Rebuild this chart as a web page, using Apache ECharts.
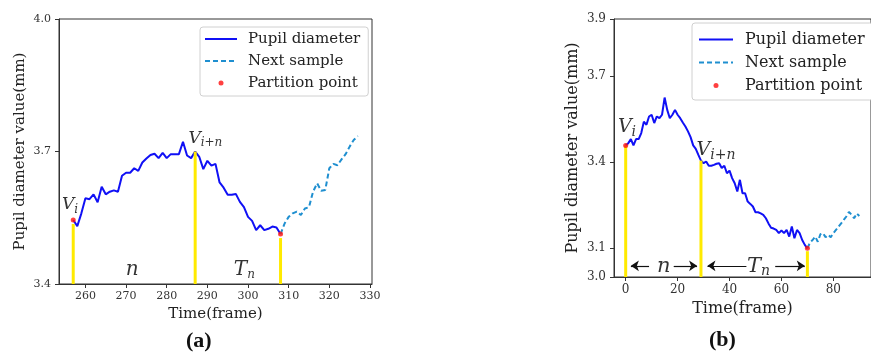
<!DOCTYPE html>
<html>
<head>
<meta charset="utf-8">
<script src="https://cdn.jsdelivr.net/npm/echarts@6/dist/echarts.min.js"></script>
<style>
  html, body { margin: 0; padding: 0; background: #fff; }
  #chart { width: 871px; height: 354px; }
</style>
</head>
<body>
<div id="chart"></div>
<script>
// (a) panel, frames 257..308 solid, 308..327 dashed
const startA = 257;
const pupilA = [3.545, 3.531, 3.560, 3.594, 3.592, 3.603, 3.585, 3.620, 3.603, 3.609,
  3.612, 3.609, 3.645, 3.652, 3.652, 3.662, 3.656, 3.675, 3.684, 3.692,
  3.695, 3.685, 3.697, 3.685, 3.694, 3.694, 3.694, 3.722, 3.691, 3.685,
  3.700, 3.688, 3.660, 3.679, 3.668, 3.672, 3.630, 3.618, 3.602, 3.602,
  3.604, 3.586, 3.574, 3.552, 3.543, 3.522, 3.533, 3.522, 3.525, 3.530,
  3.528, 3.513];
const nextStartA = 308;
const nextA = [3.513, 3.537, 3.552, 3.560, 3.564, 3.556, 3.571, 3.574, 3.609, 3.628,
  3.611, 3.613, 3.662, 3.672, 3.669, 3.682, 3.694, 3.711, 3.726, 3.735];
const barsA = [[257, 3.536], [287, 3.700], [308, 3.504]];
const pointsA = [[257, 3.545], [308, 3.513]];
const xTicksA = [260, 270, 280, 290, 300, 310, 320, 330];
const yTicksA = [3.4, 3.7, 4.0];
const annotA = [
  [256.2, 3.579, '{v|V}{s|i}'],
  [289.5, 3.730, '{v|V}{s|i+n}'],
  [271.5, 3.432, '{b|n}'],
  [299.1, 3.432, '{b|T}{s|n}']
];

// (b) panel, frames 0..70 solid, 70..90 dashed
const startB = 0;
const pupilB = [3.459, 3.467, 3.481, 3.459, 3.481, 3.481, 3.502, 3.542, 3.531, 3.560,
  3.566, 3.537, 3.560, 3.554, 3.566, 3.626, 3.583, 3.554, 3.566, 3.583,
  3.566, 3.554, 3.539, 3.525, 3.508, 3.488, 3.459, 3.447, 3.426, 3.406,
  3.397, 3.403, 3.388, 3.388, 3.391, 3.395, 3.397, 3.380, 3.388, 3.362,
  3.371, 3.345, 3.327, 3.298, 3.339, 3.292, 3.292, 3.263, 3.255, 3.246,
  3.226, 3.226, 3.222, 3.217, 3.205, 3.187, 3.172, 3.169, 3.164, 3.153,
  3.162, 3.153, 3.164, 3.141, 3.176, 3.135, 3.164, 3.153, 3.129, 3.112,
  3.100];
const nextStartB = 70;
const nextB = [3.100, 3.120, 3.129, 3.141, 3.123, 3.149, 3.153, 3.139, 3.147, 3.139,
  3.153, 3.164, 3.176, 3.187, 3.199, 3.211, 3.227, 3.217, 3.205, 3.222, 3.213];
const barsB = [[0, 3.459], [29, 3.406], [70, 3.090]];
const pointsB = [[0, 3.459], [70, 3.100]];
const xTicksB = [0, 20, 40, 60, 80];
const yTicksB = [3.0, 3.1, 3.4, 3.7, 3.9];
const annotB = [
  [0.5, 3.524, '{v|V}{s|i}'],
  [34.8, 3.444, '{v|V}{s|i+n}'],
  [14.7, 3.038, '{b|n}'],
  [51.2, 3.038, '{b|T}{s|n}']
];
const arrowY = 3.039;
const arrowsB = [[9, 2], [18.5, 27.5], [46.5, 31.5], [57.6, 69]];

const SERIF = 'DejaVu Serif';
const MATH = 'DejaVu Serif';
const pairs = (start, arr) => arr.map((v, i) => [start + i, v]);

function xAxisOf(idx, min, max, ticks, fs, nameGap) {
  return {
    type: 'value', gridIndex: idx, min, max,
    name: 'Time(frame)', nameLocation: 'middle', nameGap,
    nameTextStyle: { fontFamily: SERIF, fontSize: fs + 4, color: '#222' },
    axisLine: { show: true, onZero: false, lineStyle: { color: '#333', width: 1 } },
    axisTick: { show: true, length: 4, lineStyle: { color: '#333' }, customValues: ticks },
    axisLabel: { fontFamily: SERIF, fontSize: fs, color: '#333', margin: 7, customValues: ticks },
    splitLine: { show: false }
  };
}
function yAxisOf(idx, min, max, ticks, fs, nameGap) {
  return {
    type: 'value', gridIndex: idx, min, max,
    name: 'Pupil diameter value(mm)', nameLocation: 'middle', nameGap,
    nameTextStyle: { fontFamily: SERIF, fontSize: fs + 4, color: '#222' },
    axisLine: { show: true, onZero: false, lineStyle: { color: '#333', width: 1 } },
    axisTick: { show: true, length: 4, lineStyle: { color: '#333' }, customValues: ticks },
    axisLabel: { fontFamily: SERIF, fontSize: fs, color: '#333', margin: 8,
      customValues: ticks, formatter: (v) => v.toFixed(1) },
    splitLine: { show: false }
  };
}
function richOf(vs, bs) {
  return {
    v: { fontFamily: MATH, fontStyle: 'italic', fontSize: vs, color: '#000' },
    b: { fontFamily: MATH, fontStyle: 'italic', fontSize: bs, color: '#000' },
    s: { fontFamily: MATH, fontStyle: 'italic', fontSize: Math.round(vs * 0.72), color: '#000', padding: [Math.round(vs * 0.6), 0, 0, 0] }
  };
}
function panelSeries(idx, pupil, next, bars, points, annot, vs, bs) {
  return [
    { name: 'Pupil diameter', type: 'line', xAxisIndex: idx, yAxisIndex: idx, data: pupil,
      symbol: 'none', lineStyle: { color: '#1010f5', width: 2 }, itemStyle: { color: '#1010f5' }, z: 2 },
    { name: 'Next sample', type: 'line', xAxisIndex: idx, yAxisIndex: idx, data: next,
      symbol: 'none', lineStyle: { color: '#1f8fd0', width: 2, type: [5, 3] }, itemStyle: { color: '#1f8fd0' }, z: 2 },
    { name: 'bars', type: 'bar', xAxisIndex: idx, yAxisIndex: idx, data: bars, barWidth: 3,
      itemStyle: { color: '#ffea00' }, clip: true, z: 3, silent: true },
    { name: 'Partition point', type: 'scatter', xAxisIndex: idx, yAxisIndex: idx, data: points,
      symbolSize: 5, itemStyle: { color: '#ff1010' }, z: 4 },
    { name: 'annot', type: 'scatter', xAxisIndex: idx, yAxisIndex: idx, symbolSize: 0, silent: true, z: 5,
      data: annot.map((a) => ({ value: [a[0], a[1]], label: { formatter: a[2] } })),
      label: { show: true, position: 'inside', color: '#000', textBorderWidth: 0, rich: richOf(vs, bs) } }
  ];
}

const seriesA = panelSeries(0, pairs(startA, pupilA), pairs(nextStartA, nextA), barsA, pointsA, annotA, 17, 20);
const seriesB = panelSeries(1, pairs(startB, pupilB), pairs(nextStartB, nextB), barsB, pointsB, annotB, 19, 21);
seriesB[4].markLine = {
  silent: true, symbol: ['none', 'arrow'], symbolSize: 8,
  lineStyle: { color: '#111', width: 1.2, type: 'solid' }, label: { show: false },
  data: arrowsB.map((a) => [{ coord: [a[0], arrowY] }, { coord: [a[1], arrowY] }])
};

function legendOf(left, top, fs, gap, iw, pad, textPad) {
  const hide = { opacity: 0 };
  return {
    orient: 'vertical', left, top,
    data: [
      { name: 'Pupil diameter', itemStyle: hide },
      { name: 'Next sample', itemStyle: hide },
      { name: 'Partition point' }
    ],
    itemWidth: iw, itemHeight: 5, itemGap: gap, padding: pad,
    backgroundColor: '#fff', borderColor: '#d0d0d0', borderWidth: 1, borderRadius: 3,
    textStyle: { fontFamily: SERIF, fontSize: fs, color: '#222', padding: [0, 0, 0, textPad], lineHeight: fs + 3 },
    selectedMode: false
  };
}

const chart = echarts.init(document.getElementById('chart'), null, { renderer: 'canvas' });
chart.setOption({
  animation: false,
  backgroundColor: '#fff',
  grid: [
    { left: 59, right: 499, top: 19, bottom: 70, show: true, borderColor: '#333', borderWidth: 1 },
    { left: 614, right: -10, top: 19, bottom: 77, show: true, borderColor: '#333', borderWidth: 1 }
  ],
  xAxis: [
    xAxisOf(0, 253.5, 330.5, xTicksA, 11, 20),
    xAxisOf(1, -4.5, 94.5, xTicksB, 12, 23)
  ],
  yAxis: [
    yAxisOf(0, 3.4, 4.0, yTicksA, 11, 31),
    yAxisOf(1, 3.0, 3.9, yTicksB, 12, 33)
  ],
  legend: [
    legendOf(200, 27, 15, 4, 32, [3, 8, 4, 4], 6),
    legendOf(692, 23, 16, 4, 34, [7, 8, 5, 6], 7)
  ],
  series: seriesA.concat(seriesB),
  graphic: [
    { type: 'text', left: 186, top: 330, style: { text: '(a)', font: 'bold 22px "Liberation Serif"', fill: '#111' } },
    { type: 'text', left: 709, top: 329, style: { text: '(b)', font: 'bold 22px "Liberation Serif"', fill: '#111' } }
  ]
});
</script>
</body>
</html>
